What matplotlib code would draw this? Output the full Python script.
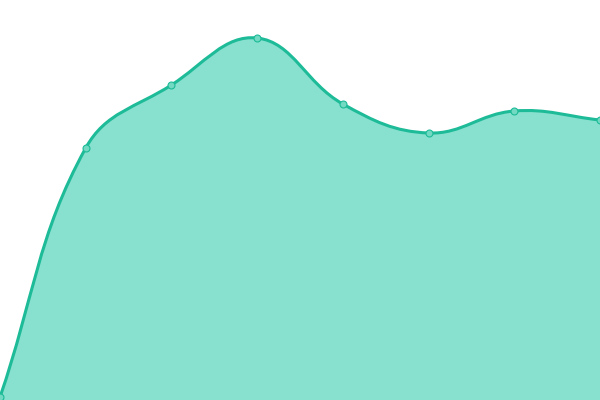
import matplotlib
matplotlib.use("Agg")
import matplotlib.pyplot as plt
import numpy as np
from matplotlib.path import Path
from matplotlib.patches import PathPatch

# valeurs (hauteur au-dessus du bas, en px sur 400)
labels = ["0", "1", "2", "3", "4", "5", "6", "7"]
values = [3, 252, 315, 362, 296, 267, 289, 280]

line_color = "#1dbb98"
fill_color = "#88e0cf"
point_color = "#72d9c3"

W, H = 600, 400
ymin, ymax = 0, 400


def spline_points(xs, ys, tension=0.4):
    """control points a la chart.js (calcul en pixels)"""
    n = len(xs)
    px = np.array(xs, float) * W / (n - 1)
    py = (np.array(ys, float) - ymin) * H / (ymax - ymin)
    cps = []
    for i in range(n):
        p = np.array([px[max(i - 1, 0)], py[max(i - 1, 0)]])
        c = np.array([px[i], py[i]])
        nx = np.array([px[min(i + 1, n - 1)], py[min(i + 1, n - 1)]])
        d01 = np.hypot(*(c - p))
        d12 = np.hypot(*(nx - c))
        tot = d01 + d12
        s01 = d01 / tot if tot else 0
        s12 = d12 / tot if tot else 0
        fa = tension * s01
        fb = tension * s12
        prev_cp = c - fa * (nx - p)
        next_cp = c + fb * (nx - p)
        # clamp dans la zone
        prev_cp = np.clip(prev_cp, [0, 0], [W, H])
        next_cp = np.clip(next_cp, [0, 0], [W, H])
        cps.append((prev_cp, next_cp))
    verts = [(px[0], py[0])]
    codes = [Path.MOVETO]
    for i in range(n - 1):
        verts += [tuple(cps[i][1]), tuple(cps[i + 1][0]), (px[i + 1], py[i + 1])]
        codes += [Path.CURVE4] * 3
    # retour en coordonnees donnees
    verts = np.array(verts)
    verts[:, 0] = verts[:, 0] * (n - 1) / W
    verts[:, 1] = verts[:, 1] * (ymax - ymin) / H + ymin
    return verts, codes


x = np.arange(len(values))
verts, codes = spline_points(x, values)

fig = plt.figure(figsize=(6, 4), dpi=100)
ax = fig.add_axes([0, 0, 1, 1])

# remplissage
fverts = np.vstack([verts, [[x[-1], ymin], [x[0], ymin], verts[0]]])
fcodes = codes + [Path.LINETO, Path.LINETO, Path.CLOSEPOLY]
ax.add_patch(PathPatch(Path(fverts, fcodes), facecolor=fill_color, edgecolor="none"))
ax.add_patch(PathPatch(Path(verts, codes), facecolor="none", edgecolor=line_color,
                       linewidth=2.2, capstyle="round", joinstyle="round"))

ax.plot(x, values, "o", markersize=5, markerfacecolor=point_color,
        markeredgecolor=line_color, markeredgewidth=0.8, clip_on=False)

ax.set_xlim(0, len(values) - 1)
ax.set_ylim(ymin, ymax)
ax.axis("off")

plt.savefig("out.png", dpi=100)
